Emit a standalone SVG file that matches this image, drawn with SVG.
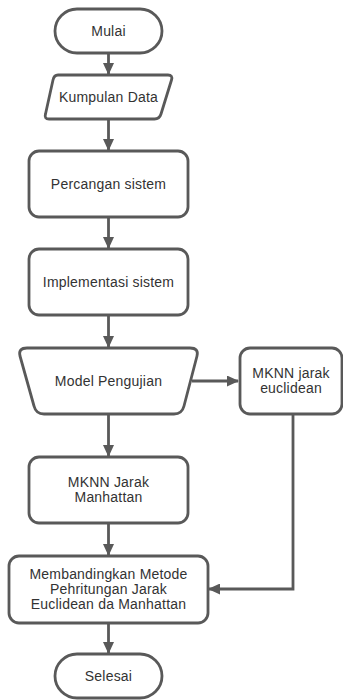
<svg xmlns="http://www.w3.org/2000/svg" width="343" height="700" viewBox="0 0 343 700">
<style>
.s{fill:#fff;stroke:#595959;stroke-width:2.8;stroke-linejoin:round}
.c{fill:none;stroke:#595959;stroke-width:2.8}
text{font-family:"Liberation Sans",Arial,sans-serif;font-size:14px;letter-spacing:0.2px;fill:#333;text-anchor:middle;dominant-baseline:central}
</style>
<defs>
<marker id="a" markerWidth="12" markerHeight="11" refX="11" refY="5.5" orient="auto" markerUnits="userSpaceOnUse">
<path d="M0,0 L12,5.5 L0,11 Z" fill="#595959"/>
</marker>
</defs>
<rect width="343" height="700" fill="#fff"/>
<g id="connectors">
<line class="c" x1="108.5" y1="53" x2="108.5" y2="74" marker-end="url(#a)"/>
<line class="c" x1="108.5" y1="119" x2="108.5" y2="150" marker-end="url(#a)"/>
<line class="c" x1="108.5" y1="217" x2="108.5" y2="248" marker-end="url(#a)"/>
<line class="c" x1="108.5" y1="315" x2="108.5" y2="347" marker-end="url(#a)"/>
<line class="c" x1="192" y1="381" x2="238" y2="381" marker-end="url(#a)"/>
<line class="c" x1="108.5" y1="414" x2="108.5" y2="456" marker-end="url(#a)"/>
<polyline class="c" points="293,414 293,589 209,589" marker-end="url(#a)"/>
<line class="c" x1="108.5" y1="523" x2="108.5" y2="555" marker-end="url(#a)"/>
<line class="c" x1="108.5" y1="623" x2="108.5" y2="653" marker-end="url(#a)"/>
</g>
<g id="mulai">
<rect class="s" x="55" y="9" width="107" height="44" rx="22"/>
<text x="108.5" y="31">Mulai</text>
</g>
<g id="kumpulan">
<path class="s" d="M58,75 L168,75 Q173,75 171.5,80 L161,114 Q159.5,119 154.5,119 L49,119 Q44,119 45.5,114 L53,80 Q54,75 58,75 Z"/>
<text x="108.5" y="97">Kumpulan Data</text>
</g>
<g id="percangan">
<rect class="s" x="29" y="151" width="159" height="66" rx="10"/>
<text x="108.5" y="184">Percangan sistem</text>
</g>
<g id="implementasi">
<rect class="s" x="29" y="249" width="159" height="66" rx="10"/>
<text x="108.5" y="282">Implementasi sistem</text>
</g>
<g id="model">
<path class="s" d="M27,348 L190,348 Q199,348 197,356 L184,406 Q182,414 174,414 L44,414 Q36,414 34,406 L20,356 Q18,348 27,348 Z"/>
<text x="108.5" y="381">Model Pengujian</text>
</g>
<g id="euclidean">
<rect class="s" x="240" y="348" width="102" height="66" rx="10"/>
<text x="291" y="372.5">MKNN jarak</text>
<text x="291" y="387.5">euclidean</text>
</g>
<g id="manhattan">
<rect class="s" x="29" y="457" width="159" height="66" rx="10"/>
<text x="108.5" y="482">MKNN Jarak</text>
<text x="108.5" y="497">Manhattan</text>
</g>
<g id="membandingkan">
<rect class="s" x="9" y="556" width="199" height="67" rx="10"/>
<text x="108.5" y="574">Membandingkan Metode</text>
<text x="108.5" y="589">Pehritungan Jarak</text>
<text x="108.5" y="604">Euclidean da Manhattan</text>
</g>
<g id="selesai">
<rect class="s" x="55" y="654" width="107" height="44" rx="22"/>
<text x="108.5" y="676">Selesai</text>
</g>
</svg>
